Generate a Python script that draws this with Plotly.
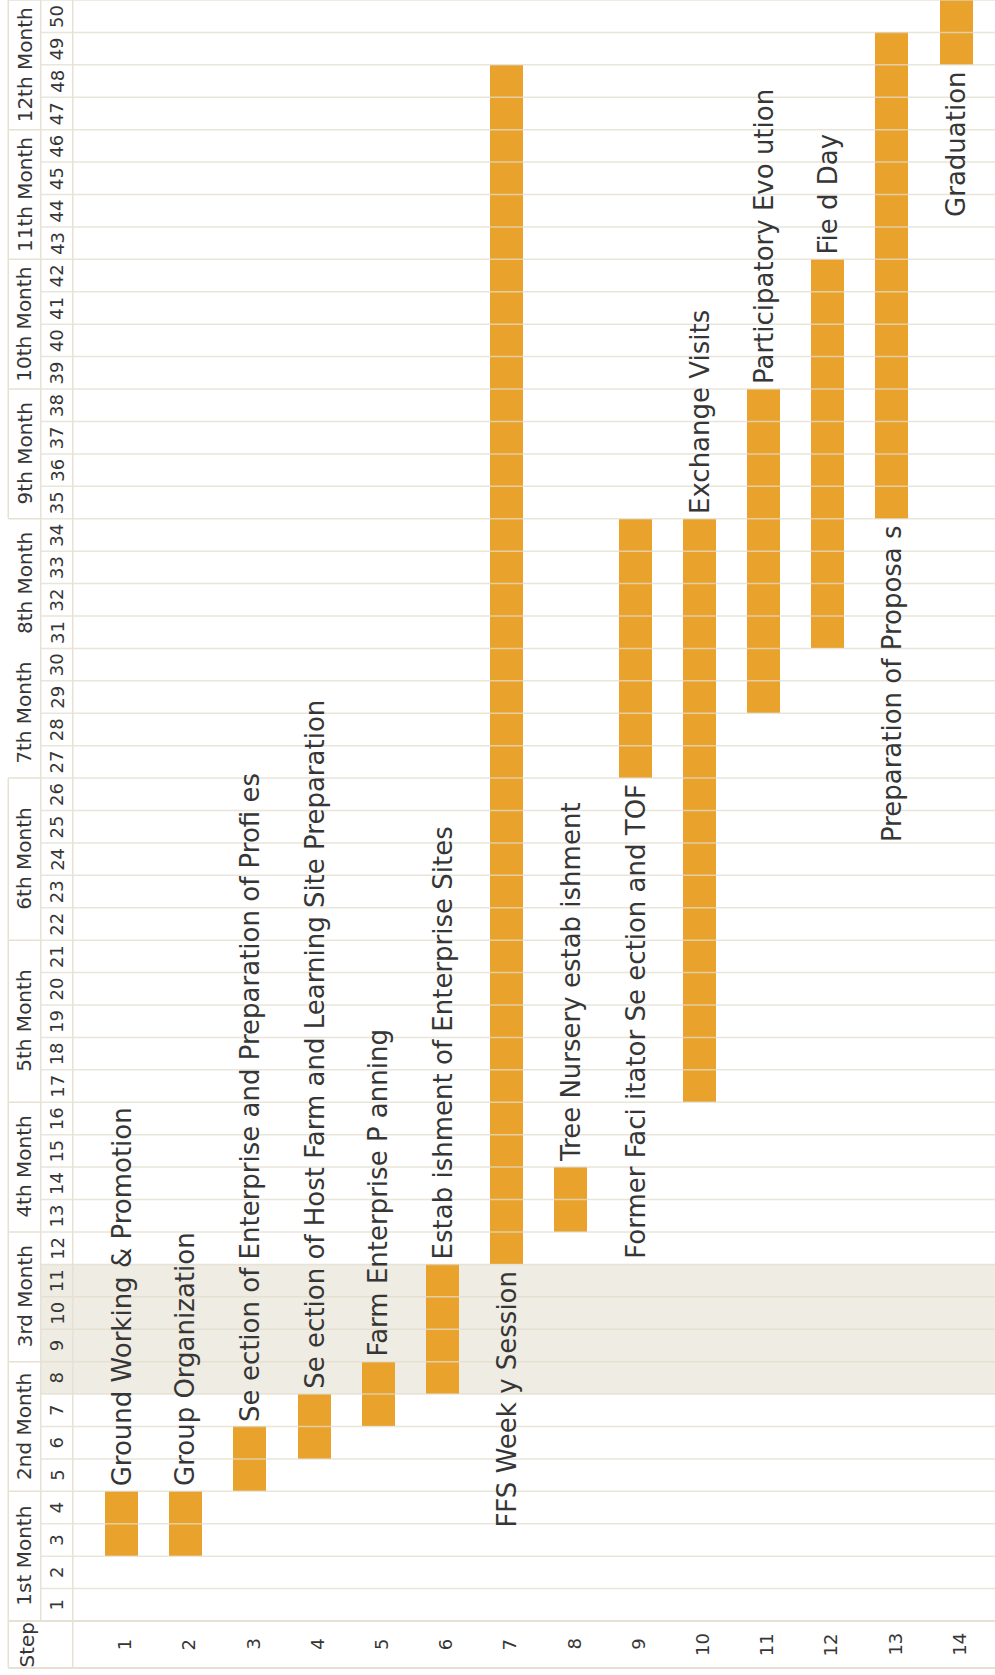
import plotly.graph_objects as go

# ---------------- data ----------------
steps = list(range(1, 15))
tasks = [
    "Ground Working & Promotion",
    "Group Organization",
    "Se ection of Enterprise and Preparation of Profi es",
    "Se ection of Host Farm and Learning Site Preparation",
    "Farm Enterprise P anning",
    "Estab ishment of Enterprise Sites",
    "FFS Week y Session",
    "Tree Nursery estab ishment",
    "Former Faci itator Se ection and TOF",
    "Exchange Visits",
    "Participatory Evo ution",
    "Fie d Day",
    "Preparation of Proposa s",
    "Graduation",
]
start_week = [3, 3, 5, 6, 7, 8, 12, 13, 27, 17, 29, 31, 35, 49]
end_week = [4, 4, 6, 7, 8, 11, 48, 14, 34, 34, 38, 42, 49, 50]
label_side = ["after", "after", "after", "after", "after", "after", "before",
              "after", "before", "after", "after", "after", "before", "before"]

months = ["1st Month", "2nd Month", "3rd Month", "4th Month", "5th Month", "6th Month",
          "7th Month", "8th Month", "9th Month", "10th Month", "11th Month", "12th Month"]
month_first_week = [1, 5, 9, 13, 17, 22, 27, 31, 35, 39, 43, 47]
month_last_week = [4, 8, 12, 16, 21, 26, 30, 34, 38, 42, 46, 50]
weeks = list(range(1, 51))
highlight_weeks = [8, 11]
step_header = "Step"

# ---------------- layout geometry ----------------
W, H = 995, 1675
STEP_PX = 64.2          # px per step
WEEK_PX = 32.42         # px per week
X0 = 1 - 121.5 / STEP_PX
X1 = X0 + W / STEP_PX
Y_TOP = 0.5 + 1621 / WEEK_PX
Y_BOT = 0.5 - (H - 1621) / WEEK_PX


def px_x(p):
    return X0 + p / STEP_PX


def px_y(p):
    return 0.5 + (1621 - p) / WEEK_PX


X_LEFT = px_x(8.3)
X_MW = px_x(40.7)
X_WC = px_x(72.7)
Y_STEP_BOT = px_y(1668)
Y_STEP_MID = (0.5 + Y_STEP_BOT) / 2

BAR = "#E9A32D"
GRID = "#E6E1D3"
SHADE = "#EFECE3"
TXT = "#363636"
FONT = "DejaVu Sans"

fig = go.Figure()
fig.add_trace(go.Bar(
    x=steps,
    base=[s - 0.5 for s in start_week],
    y=[e - s + 1 for s, e in zip(start_week, end_week)],
    width=0.515,
    marker=dict(color=BAR, line=dict(width=0)),
    hoverinfo="skip",
    showlegend=False,
))

shapes = []
# highlighted band
shapes.append(dict(type="rect", xref="x", yref="y", x0=X_MW, x1=X1,
                   y0=highlight_weeks[0] - 0.5, y1=highlight_weeks[1] + 0.5,
                   fillcolor=SHADE, line=dict(width=0), layer="below"))
# week lines (over bars, semi-transparent)
for w in range(0, 51):
    shapes.append(dict(type="line", xref="x", yref="y", x0=X_MW, x1=X1,
                       y0=w + 0.5, y1=w + 0.5,
                       line=dict(color="rgba(226,220,204,0.75)", width=1.5), layer="above"))
# month boundaries in month column
for i, lw in enumerate(month_last_week):
    if months[i] == "7th Month":
        continue
    shapes.append(dict(type="line", xref="x", yref="y", x0=X_LEFT, x1=X_MW,
                       y0=lw + 0.5, y1=lw + 0.5, line=dict(color=GRID, width=1.5)))
shapes.append(dict(type="line", xref="x", yref="y", x0=X_LEFT, x1=X_MW,
                   y0=0.5, y1=0.5, line=dict(color=GRID, width=1.5)))
# step row borders
for yy in (0.5, Y_STEP_BOT):
    shapes.append(dict(type="line", xref="x", yref="y", x0=X_LEFT, x1=X1,
                       y0=yy, y1=yy, line=dict(color=GRID, width=2)))
# vertical dividers
shapes.append(dict(type="line", xref="x", yref="y", x0=X_LEFT, x1=X_LEFT,
                   y0=Y_STEP_BOT, y1=26.5, line=dict(color=GRID, width=1.5)))
shapes.append(dict(type="line", xref="x", yref="y", x0=X_LEFT, x1=X_LEFT,
                   y0=34.5, y1=Y_TOP, line=dict(color=GRID, width=1.5)))
shapes.append(dict(type="line", xref="x", yref="y", x0=X_MW, x1=X_MW,
                   y0=0.5, y1=Y_TOP, line=dict(color=GRID, width=1.5)))
shapes.append(dict(type="line", xref="x", yref="y", x0=X_WC, x1=X_WC,
                   y0=Y_STEP_BOT, y1=Y_TOP, line=dict(color=GRID, width=1.5)))

ann = []
for i, m in enumerate(months):
    ann.append(dict(x=(X_LEFT + X_MW) / 2, y=(month_first_week[i] + month_last_week[i]) / 2,
                    text=m, textangle=-90, showarrow=False,
                    font=dict(family=FONT, size=20, color=TXT)))
for w in weeks:
    ann.append(dict(x=(X_MW + X_WC) / 2, y=w, text=str(w), textangle=-90, showarrow=False,
                    font=dict(family=FONT, size=18, color=TXT)))
for s in steps:
    ann.append(dict(x=s + 0.05, y=Y_STEP_MID, text=str(s), textangle=-90, showarrow=False,
                    font=dict(family=FONT, size=18, color=TXT)))
ann.append(dict(x=px_x(26), y=Y_STEP_MID, text=step_header, textangle=-90, showarrow=False,
                font=dict(family=FONT, size=20, color=TXT)))
for s, t, a, b, side in zip(steps, tasks, start_week, end_week, label_side):
    if side == "after":
        ann.append(dict(x=s, y=b + 0.5, text=t, textangle=-90, showarrow=False,
                        yanchor="bottom", yshift=3,
                        font=dict(family=FONT, size=26, color=TXT)))
    else:
        ann.append(dict(x=s, y=a - 0.5, text=t, textangle=-90, showarrow=False,
                        yanchor="top", yshift=-4,
                        font=dict(family=FONT, size=26, color=TXT)))

fig.update_layout(
    width=W, height=H,
    margin=dict(l=0, r=0, t=0, b=0),
    paper_bgcolor="white", plot_bgcolor="white",
    xaxis=dict(range=[X0, X1], visible=False, fixedrange=True),
    yaxis=dict(range=[Y_BOT, Y_TOP], visible=False, fixedrange=True),
    shapes=shapes, annotations=ann,
    bargap=0,
)
fig.write_html("out.html")
